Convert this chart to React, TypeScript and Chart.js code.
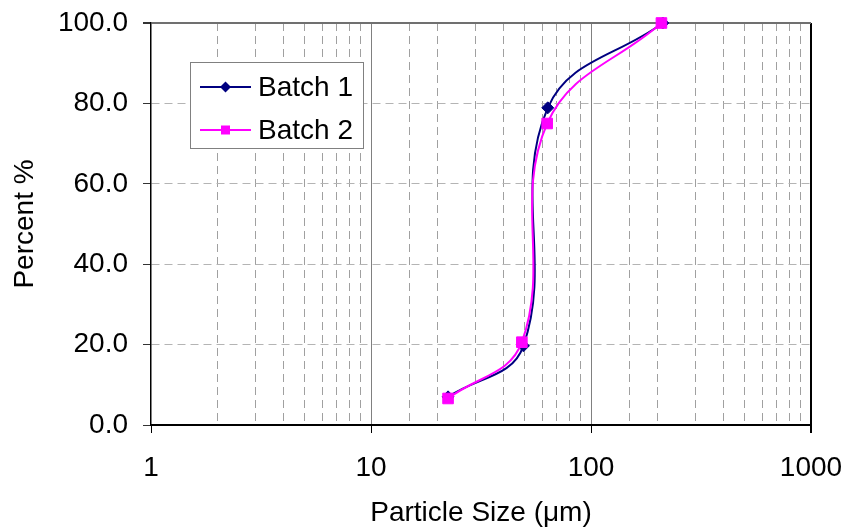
import React, { useEffect, useRef } from 'react';
import { Chart, registerables } from 'chart.js';

Chart.register(...registerables);

// ---- data ----
const seriesNames = ['Batch 1', 'Batch 2'];
const batch1Size = [22.4, 49.3, 63.6, 212];
const batch1Percent = [7.0, 19.7, 78.9, 100.0];
const batch2Size = [22.4, 48.5, 63.2, 209];
const batch2Percent = [6.6, 20.6, 75.0, 100.0];
const xTickLabels = [1, 10, 100, 1000];
const yTickValues = [0, 20, 40, 60, 80, 100];
const xTitle = 'Particle Size (\u03BCm)';
const yTitle = 'Percent %';

const FONT = "'Liberation Sans', Arial, sans-serif";
const NAVY = '#000080';
const MAGENTA = '#FF00FF';

const isDecade = (v: number) => {
  const l = Math.log10(v);
  return Math.abs(l - Math.round(l)) < 1e-6;
};

const boxLegend = {
  id: 'boxLegend',
  afterDraw(chart: any) {
    const ctx = chart.ctx;
    const { left, top } = chart.chartArea;
    const bx = Math.round(left + 39);
    const by = Math.round(top + 39);
    const bw = 173;
    const bh = 86;
    ctx.save();
    ctx.fillStyle = '#ffffff';
    ctx.fillRect(bx, by, bw, bh);
    ctx.strokeStyle = '#808080';
    ctx.lineWidth = 1;
    ctx.strokeRect(bx + 0.5, by + 0.5, bw, bh);
    chart.data.datasets.forEach((ds: any, i: number) => {
      const y = by + 25 + i * 43;
      const x0 = bx + 10;
      const x1 = bx + 61;
      const cx = (x0 + x1) / 2;
      ctx.strokeStyle = ds.borderColor;
      ctx.lineWidth = 2;
      ctx.beginPath();
      ctx.moveTo(x0, y);
      ctx.lineTo(x1, y);
      ctx.stroke();
      ctx.fillStyle = ds.borderColor;
      ctx.beginPath();
      if (ds.pointStyle === 'rectRot') {
        const r = 5.5;
        ctx.moveTo(cx - r, y);
        ctx.lineTo(cx, y - r);
        ctx.lineTo(cx + r, y);
        ctx.lineTo(cx, y + r);
        ctx.closePath();
      } else {
        const s = 4.5;
        ctx.rect(cx - s, y - s, 2 * s, 2 * s);
      }
      ctx.fill();
      ctx.fillStyle = '#000000';
      ctx.font = `28px ${FONT}`;
      ctx.textAlign = 'left';
      ctx.textBaseline = 'middle';
      ctx.fillText(ds.label, bx + 68, y + 1);
    });
    ctx.restore();
  },
};

export default function App() {
  const canvasRef = useRef<HTMLCanvasElement | null>(null);

  useEffect(() => {
    if (!canvasRef.current) return;
    const toPoints = (xs: number[], ys: number[]) => xs.map((x, i) => ({ x, y: ys[i] }));

    const chart = new Chart(canvasRef.current, {
      type: 'line',
      data: {
        datasets: [
          {
            label: seriesNames[0],
            data: toPoints(batch1Size, batch1Percent),
            borderColor: NAVY,
            backgroundColor: NAVY,
            borderWidth: 2,
            pointStyle: 'rectRot',
            pointRadius: 6,
            pointBorderWidth: 1,
            pointBackgroundColor: NAVY,
            pointBorderColor: NAVY,
            tension: 0.4,
            fill: false,
            clip: false,
            order: 1,
          },
          {
            label: seriesNames[1],
            data: toPoints(batch2Size, batch2Percent),
            borderColor: MAGENTA,
            backgroundColor: MAGENTA,
            borderWidth: 2,
            pointStyle: 'rect',
            pointRadius: 7.5,
            pointBorderWidth: 1,
            pointBackgroundColor: MAGENTA,
            pointBorderColor: MAGENTA,
            tension: 0.4,
            fill: false,
            clip: false,
            order: 0,
          },
        ],
      },
      options: {
        animation: false,
        responsive: true,
        maintainAspectRatio: false,
        layout: { padding: { top: 23, right: 35, left: 0, bottom: 0 } },
        plugins: {
          legend: { display: false },
          tooltip: { enabled: false },
        },
        scales: {
          x: {
            type: 'logarithmic',
            min: 1,
            max: 1000,
            afterFit: (scale: any) => {
              scale.height = 102;
              scale.paddingLeft = 0;
              scale.paddingRight = 0;
            },
            border: {
              display: true,
              color: '#000000',
              width: 2,
              dash: (ctx: any) => (ctx.tick && !isDecade(ctx.tick.value) ? [8, 5] : []),
            },
            grid: {
              drawTicks: true,
              tickLength: 8,
              color: (ctx: any) => {
                const v = ctx.tick ? ctx.tick.value : undefined;
                if (v === undefined) return '#808080';
                if (isDecade(v)) {
                  if (Math.abs(v - 1) < 1e-9) return 'rgba(0,0,0,0)';
                  if (Math.abs(v - 1000) < 1e-6) return '#000000';
                  return '#808080';
                }
                return '#a0a0a0';
              },
              lineWidth: (ctx: any) => {
                const v = ctx.tick ? ctx.tick.value : undefined;
                if (v !== undefined && Math.abs(v - 1000) < 1e-6) return 2;
                return 1;
              },
              tickColor: (ctx: any) => {
                const v = ctx.tick ? ctx.tick.value : undefined;
                return v !== undefined && isDecade(v) ? '#000000' : 'rgba(0,0,0,0)';
              },
            },
            ticks: {
              autoSkip: false,
              maxRotation: 0,
              minRotation: 0,
              padding: 18,
              color: '#000000',
              font: { family: FONT, size: 28 },
              callback: (value: any) => {
                const v = Number(value);
                const match = xTickLabels.find((t) => Math.abs(t - v) < 1e-6 * t);
                return match !== undefined ? String(match) : '';
              },
            },
            title: {
              display: true,
              text: xTitle,
              color: '#000000',
              font: { family: FONT, size: 28, lineHeight: 1 },
              padding: { top: 0, bottom: 0 },
            },
          },
          y: {
            type: 'linear',
            min: yTickValues[0],
            max: yTickValues[yTickValues.length - 1],
            afterFit: (scale: any) => {
              scale.width = 151;
              scale.paddingTop = 0;
              scale.paddingBottom = 0;
            },
            border: {
              display: true,
              color: '#000000',
              width: 1.5,
              dash: (ctx: any) => {
                const v = ctx.tick ? ctx.tick.value : undefined;
                return v !== undefined && v > 0 && v < 100 ? [8, 5] : [];
              },
            },
            grid: {
              drawTicks: true,
              tickLength: 8,
              color: (ctx: any) => {
                const v = ctx.tick ? ctx.tick.value : undefined;
                if (v === 100) return '#707070';
                if (v === 0) return '#000000';
                return '#b4b4b4';
              },
              lineWidth: (ctx: any) => {
                const v = ctx.tick ? ctx.tick.value : undefined;
                return v === 100 ? 2 : 1;
              },
              tickColor: '#333333',
            },
            ticks: {
              stepSize: 20,
              padding: 15,
              color: '#000000',
              font: { family: FONT, size: 28 },
              callback: (value: any) => Number(value).toFixed(1),
            },
            title: {
              display: true,
              text: yTitle,
              color: '#000000',
              font: { family: FONT, size: 28 },
              padding: { top: 8, bottom: 0 },
            },
          },
        },
      },
      plugins: [boxLegend],
    } as any);

    return () => chart.destroy();
  }, []);

  return (
    <div style={{ position: 'fixed', left: 0, top: 0, width: 846, height: 527, background: '#ffffff' }}>
      <canvas ref={canvasRef} />
    </div>
  );
}
